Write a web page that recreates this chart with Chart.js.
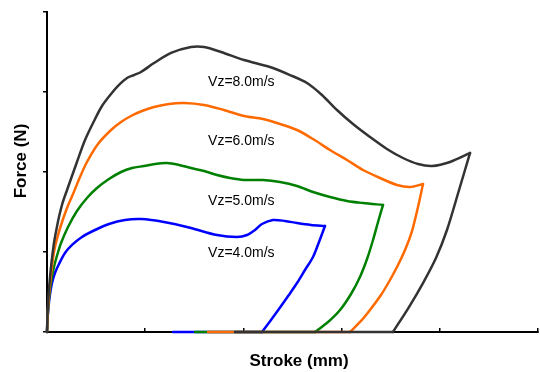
<!DOCTYPE html>
<html>
<head>
<meta charset="utf-8">
<script src="https://cdn.jsdelivr.net/npm/chart.js@4"></script>
<style>
html,body{margin:0;padding:0;background:#fff;}
#wrap{width:540px;height:372px;position:relative;}
</style>
</head>
<body>
<div id="wrap"><canvas id="c"></canvas></div>
<script>
// Stroke (mm) / Force (N) loops for each impact speed (loading, unloading, return along zero force)
const v8Stroke = [0,0.07,0.20,0.43,0.71,0.95,1.22,1.58,2.04,3.05,3.87,4.79,5.60,6.52,7.33,8.15,8.86,9.57,10.90,12.63,14.66,15.99,17.72,20.06,22.71,24.75,26.48,28.00,29.53,31.16,32.89,34.62,36.25,37.78,39.21,41.04,43.08,
                  41.96,40.73,39.61,38.29,36.86,35.23,19.14];
const v8Force  = [0,275,525,838,1112,1275,1438,1612,1775,2125,2400,2638,2825,2975,3088,3175,3212,3250,3362,3488,3562,3562,3500,3400,3312,3212,3112,2962,2775,2600,2438,2288,2175,2100,2075,2125,2238,
                  1775,1275,925,612,312,0,0];

const v6Stroke = [0,0.08,0.23,0.44,0.71,1.07,1.53,2.04,2.65,3.36,4.07,5.19,6.52,7.54,8.55,9.67,10.90,12.42,13.95,15.99,18.02,20.06,22.00,23.73,25.46,27.09,28.82,30.55,32.18,33.91,35.64,36.97,38.29,
                  37.78,37.17,36.46,35.64,34.93,34.01,32.89,31.98,30.86,16.40];
const v6Force  = [0,250,500,750,1000,1188,1375,1550,1725,1938,2125,2350,2525,2625,2700,2762,2812,2850,2862,2838,2775,2700,2662,2600,2525,2412,2275,2150,2025,1925,1838,1812,1850,
                  1562,1262,1025,812,650,462,275,138,0,0];

const v5Stroke = [0,0.08,0.22,0.41,0.71,1.07,1.43,2.14,3.05,4.07,5.09,6.31,7.54,8.66,9.88,11.00,12.22,13.44,14.66,15.99,17.31,18.64,20.06,22.00,23.73,25.46,27.09,28.82,30.55,32.18,34.22,
                  33.71,33.20,32.59,31.87,30.96,29.84,28.62,27.29,15.07];
const v5Force  = [0,212,438,625,812,975,1112,1312,1512,1675,1800,1912,2000,2050,2075,2100,2112,2088,2050,2012,1962,1925,1900,1900,1875,1825,1750,1688,1638,1612,1588,
                  1375,1150,912,688,475,275,125,0,0];

const v4Stroke = [0,0.06,0.16,0.31,0.51,0.81,1.22,1.83,2.55,3.56,4.89,6.31,7.94,9.57,11.91,14.66,17.31,19.35,20.37,21.18,21.89,23.01,24.24,25.46,26.88,28.31,
                  27.70,27.09,26.27,25.46,24.59,23.73,22.81,21.89,12.83];
const v4Force  = [0,175,325,475,612,738,850,988,1088,1188,1275,1350,1400,1412,1375,1300,1212,1188,1212,1275,1350,1400,1388,1362,1338,1325,
                  1125,938,775,612,456,306,150,0,0];

const seriesNames = ['Vz=8.0m/s','Vz=6.0m/s','Vz=5.0m/s','Vz=4.0m/s'];
const labelStroke = [16.4,16.4,16.4,16.4];
const labelForce  = [3125,2388,1638,988];

const xTicks = [0,10,20,30,40,50];
const yTicks = [0,1000,2000,3000,4000];

const colors = ['#333333','#ff6a00','#008000','#0000ff'];
const series = [[v8Stroke,v8Force],[v6Stroke,v6Force],[v5Stroke,v5Force],[v4Stroke,v4Force]];

const datasets = [];
series.forEach(([xs,ys],k)=>{
  const pts = xs.map((x,i)=>({x:x,y:ys[i]}));
  let c = 0;
  xs.forEach((x,i)=>{ if (x > xs[c]) c = i; });
  const n = pts.length;
  const parts = [
    {data: pts.slice(0,c+1), tension:0.3},
    {data: pts.slice(c,n-1), tension:0.3},
    {data: pts.slice(n-2,n), tension:0}
  ];
  parts.forEach(p=>{
    datasets.push({
      label: seriesNames[k],
      data: p.data,
      showLine: true,
      borderColor: colors[k],
      backgroundColor: colors[k],
      borderWidth: 2.5,
      borderCapStyle: 'round',
      borderJoinStyle: 'round',
      pointRadius: 0,
      tension: p.tension,
      fill: false,
      clip: false,
      order: k
    });
  });
});

const textPlugin = {
  id:'texts',
  afterDatasetsDraw(chart){
    const ctx = chart.ctx;
    const xs = chart.scales.x, ys = chart.scales.y;
    ctx.save();
    ctx.fillStyle = '#000';
    ctx.font = '14px "Liberation Sans", Arial, sans-serif';
    ctx.textAlign = 'left';
    ctx.textBaseline = 'middle';
    seriesNames.forEach((t,i)=>{
      ctx.fillText(t, xs.getPixelForValue(labelStroke[i]), ys.getPixelForValue(labelForce[i]));
    });
    ctx.font = 'bold 17px "Liberation Sans", Arial, sans-serif';
    ctx.textAlign = 'center';
    ctx.fillText('Stroke (mm)', 299, 361);
    ctx.translate(21, 161);
    ctx.rotate(-Math.PI/2);
    ctx.fillText('Force (N)', 0, 0);
    ctx.restore();
  }
};

new Chart(document.getElementById('c'), {
  type: 'scatter',
  data: { datasets },
  options: {
    responsive: true,
    maintainAspectRatio: false,
    animation: false,
    layout: { padding: { left: 43, right: 2, top: 12, bottom: 40 } },
    plugins: { legend: { display: false }, tooltip: { enabled: false } },
    scales: {
      x: {
        type: 'linear', min: 0, max: 50,
        afterBuildTicks: s => { s.ticks = xTicks.map(v=>({value:v})); },
        ticks: { display: false },
        grid: { display: true, drawOnChartArea: false, drawTicks: true, tickLength: -4, color: '#000', lineWidth: 1.5, z: -1 },
        border: { display: true, color: '#000', width: 2, z: -1 }
      },
      y: {
        type: 'linear', min: 0, max: 4000,
        afterBuildTicks: s => { s.ticks = yTicks.map(v=>({value:v})); },
        ticks: { display: false },
        grid: { display: true, drawOnChartArea: false, drawTicks: true, tickLength: 4, color: '#000', lineWidth: 1.5, z: -1 },
        border: { display: true, color: '#000', width: 2, z: -1 }
      }
    }
  },
  plugins: [textPlugin]
});
</script>
</body>
</html>
